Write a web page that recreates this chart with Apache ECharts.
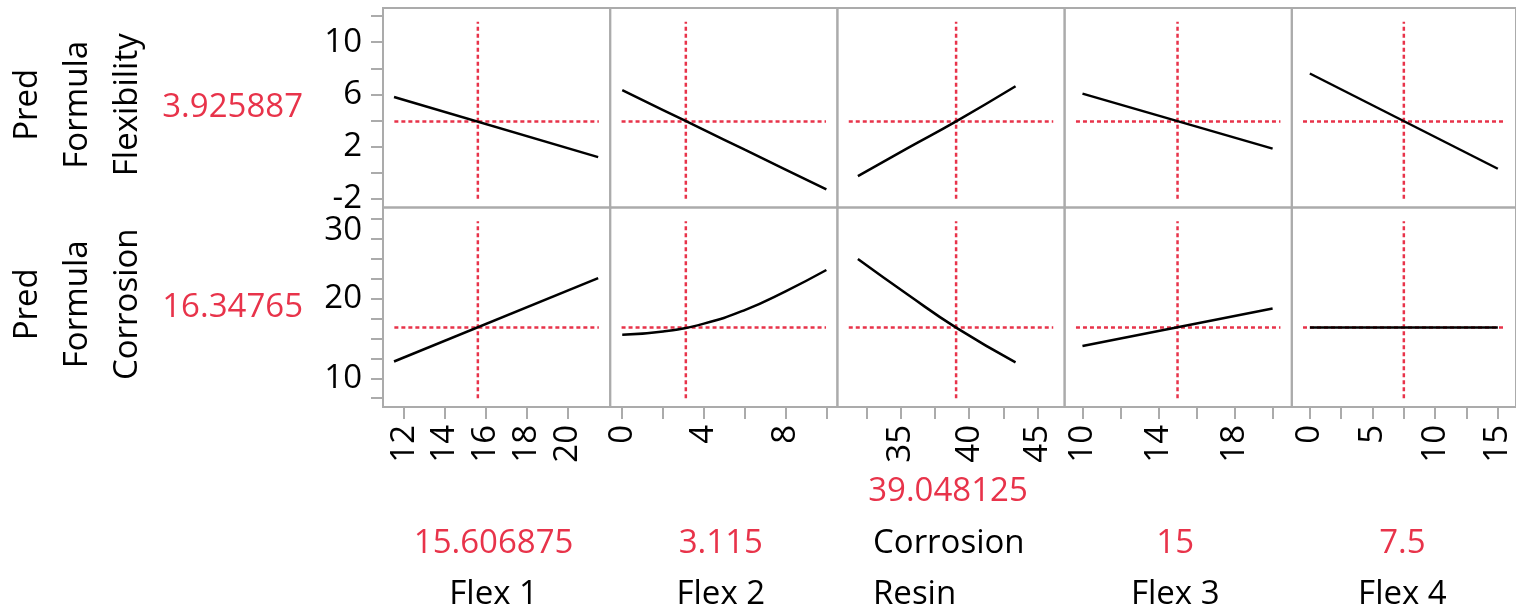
<!DOCTYPE html>
<html><head><meta charset="utf-8">
<script src="https://cdn.jsdelivr.net/npm/echarts@6/dist/echarts.min.js"></script>
<style>html,body{margin:0;padding:0;background:#fff}#c{width:1516px;height:613px}</style>
</head><body><div id="c"></div>
<script>
// ---------- data ----------
const factorNames = ['Flex 1', 'Flex 2', 'Corrosion\nResin', 'Flex 3', 'Flex 4'];
const factorSettings = [15.606875, 3.115, 39.048125, 15, 7.5];
const factorSettingLabels = ['15.606875', '3.115', '39.048125', '15', '7.5'];
const responseNames = ['Pred\nFormula\nFlexibility', 'Pred\nFormula\nCorrosion'];
const predictedValues = [3.925887, 16.34765];
const predictedLabels = ['3.925887', '16.34765'];

const xMin = [10.96, -0.59, 30.36, 9.06, -1.44];
const xMax = [22.09, 10.54, 46.99, 21.01, 16.45];
const yMin = [-2.67, 6.4];
const yMax = [12.62, 31.4];

const xTicks = [[12, 14, 16, 18, 20], [0, 2, 4, 6, 8, 10], [32.5, 35, 37.5, 40, 42.5, 45], [10, 12, 14, 16, 18, 20], [0, 2.5, 5, 7.5, 10, 12.5, 15]];
const xTickLabels = [[12, 14, 16, 18, 20], [0, 4, 8], [35, 40, 45], [10, 14, 18], [0, 5, 10, 15]];
const yTicks = [[-2, 0, 2, 4, 6, 8, 10, 12], [7.5, 10, 12.5, 15, 17.5, 20, 22.5, 25, 27.5, 30]];
const yTickLabels = [[-2, 2, 6, 10], [10, 20, 30]];

// profile traces (x grid per factor, response values)
const flex1X = [11.5, 21.5];
const flex1Flexibility = [5.80, 1.19];
const flex1Corrosion = [12.1, 22.55];
const flex2X = [0, 2, 4, 6, 8, 10];
const flex2Flexibility = [6.32, 4.80, 3.28, 1.76, 0.24, -1.29];
const flex2Corrosion = [15.44, 15.85, 16.85, 18.55, 20.9, 23.57];
const resinX = [31.86, 35.5, 39.05, 43.4];
const resinFlexibility = [-0.26, 1.88, 3.93, 6.62];
const resinCorrosion = [24.95, 20.5, 16.35, 12.0];
const flex3X = [10, 20];
const flex3Flexibility = [6.06, 1.84];
const flex3Corrosion = [14.05, 18.75];
const flex4X = [0, 15];
const flex4Flexibility = [7.6, 0.3];
const flex4Corrosion = [16.35, 16.35];

const profileX = [flex1X, flex2X, resinX, flex3X, flex4X];
const profileY = [
  [flex1Flexibility, flex2Flexibility, resinFlexibility, flex3Flexibility, flex4Flexibility],
  [flex1Corrosion, flex2Corrosion, resinCorrosion, flex3Corrosion, flex4Corrosion]
];

// ---------- layout / style ----------
const FONT = 'Open Sans';
const FS = 33;
const RED = '#e8334a';
const GRAY = '#ababab';
const PLOT_LEFT = 383, COL_W = 227.2;
const ROW_TOP = [8, 207.5], ROW_H = 199.5;

const grids = [], xAxes = [], yAxes = [], series = [], graphics = [];

for (let r = 0; r < 2; r++) {
  for (let c = 0; c < 5; c++) {
    const idx = r * 5 + c;
    grids.push({
      left: PLOT_LEFT + c * COL_W, top: ROW_TOP[r], width: COL_W, height: ROW_H,
      show: true, borderColor: GRAY, borderWidth: 2, backgroundColor: 'transparent'
    });
    xAxes.push({
      gridIndex: idx, type: 'value', min: xMin[c], max: xMax[c],
      axisLine: { show: false }, splitLine: { show: false },
      axisTick: { show: r === 1, customValues: xTicks[c], length: 12, lineStyle: { color: GRAY, width: 2 } },
      axisLabel: { show: r === 1, customValues: xTickLabels[c], rotate: 90, margin: 18,
        color: '#000', fontSize: FS, fontFamily: FONT }
    });
    const topLab = yTickLabels[r][yTickLabels[r].length - 1];
    yAxes.push({
      gridIndex: idx, type: 'value', min: yMin[r], max: yMax[r],
      axisLine: { show: false }, splitLine: { show: false },
      axisTick: { show: c === 0, customValues: yTicks[r], length: 12, lineStyle: { color: GRAY, width: 2 } },
      axisLabel: { show: c === 0, customValues: yTickLabels[r], margin: 21,
        color: '#000', fontSize: FS, fontFamily: FONT,
        formatter: v => (r === 1 && v === topLab) ? '{d|' + v + '}' : String(v),
        rich: { d: { fontSize: FS, fontFamily: FONT, color: '#000', padding: [24, 0, 0, 0] } } }
    });
    // reference lines (drawn first, under the trace)
    const xs = xMax[c] - xMin[c], ys = yMax[r] - yMin[r];
    const refStyle = { color: RED, width: 2.5, type: [4, 3] };
    series.push({
      type: 'line', xAxisIndex: idx, yAxisIndex: idx, showSymbol: false, silent: true,
      lineStyle: refStyle, data: [[xMin[c] + 0.05 * xs, predictedValues[r]], [xMax[c] - 0.05 * xs, predictedValues[r]]]
    });
    series.push({
      type: 'line', xAxisIndex: idx, yAxisIndex: idx, showSymbol: false, silent: true,
      lineStyle: refStyle, data: [[factorSettings[c], yMin[r] + 0.044 * ys], [factorSettings[c], yMax[r] - 0.069 * ys]]
    });
    series.push({
      type: 'line', xAxisIndex: idx, yAxisIndex: idx, showSymbol: false, silent: true, smooth: true,
      lineStyle: { color: '#000', width: 2.5 },
      data: profileX[c].map((x, i) => [x, profileY[r][c][i]])
    });
  }
}

// response labels (left)
for (let r = 0; r < 2; r++) {
  const cy = ROW_TOP[r] + ROW_H / 2;
  graphics.push({
    type: 'text', x: 78, y: cy - 3, rotation: Math.PI / 2,
    style: { text: responseNames[r], font: FS + 'px "' + FONT + '"', fill: '#000',
      align: 'center', verticalAlign: 'middle', lineHeight: 50 }
  });
  graphics.push({
    type: 'text', x: 303, y: cy,
    style: { text: predictedLabels[r], font: FS + 'px "' + FONT + '"', fill: RED,
      align: 'right', verticalAlign: 'middle' }
  });
}
// factor labels (bottom)
const LH = 51.5, BASE = 620.75;
for (let c = 0; c < 5; c++) {
  const cx = PLOT_LEFT + c * COL_W + COL_W / 2;
  const lines = factorNames[c].split('\n').length;
  const multi = lines > 1;
  graphics.push({
    type: 'text', x: multi ? cx - 78 : cx - 3, y: BASE,
    style: { text: factorNames[c], font: FS + 'px "' + FONT + '"', fill: '#000',
      align: multi ? 'left' : 'center', verticalAlign: 'bottom', lineHeight: LH }
  });
  graphics.push({
    type: 'text', x: cx - 3, y: BASE - lines * LH,
    style: { text: factorSettingLabels[c], font: FS + 'px "' + FONT + '"', fill: RED,
      align: 'center', verticalAlign: 'bottom', lineHeight: LH }
  });
}

const chart = echarts.init(document.getElementById('c'));
chart.setOption({
  animation: false,
  grid: grids, xAxis: xAxes, yAxis: yAxes, series: series,
  graphic: graphics
});
</script></body></html>
